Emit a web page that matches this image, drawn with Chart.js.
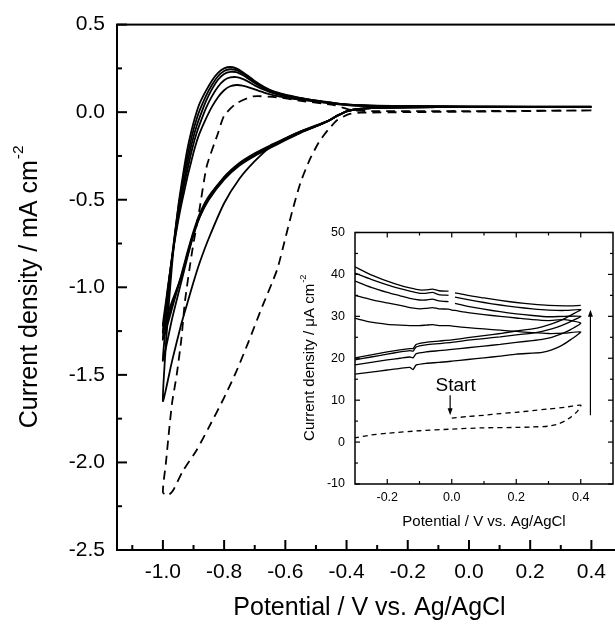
<!DOCTYPE html>
<html lang="en">
  <head>
    <meta charset="UTF-8" />
    <title>Cyclic voltammograms</title>
    <script src="https://cdn.jsdelivr.net/npm/chart.js@4"></script>
    <style>
      body { margin: 0; background: #fff; overflow: hidden; }
      #wrap { position: relative; width: 615px; height: 629px; overflow: hidden; }
      #mainChart { position: absolute; left: 0; top: 0; }
      #insetChart { position: absolute; left: 290px; top: 215px; }
    </style>
  </head>
  <body>
    <div id="wrap">
      <canvas id="mainChart" width="623" height="629"></canvas>
      <canvas id="insetChart" width="325" height="325"></canvas>
    </div>

    <script>
      const FONT = 'Arial, "Liberation Sans", sans-serif';

      // ---- main plot: potential (V) / current density (mA cm-2) ----
      // cathodic scans, 0.4 V -> -1.0 V
      const FWD_V = [0.4, 0.2, 0.0, -0.2, -0.3, -0.36, -0.4, -0.43, -0.46, -0.5, -0.55, -0.6, -0.65, -0.7, -0.75, -0.8, -0.85, -0.88, -0.9, -0.92, -0.94, -0.97, -1.0];
      const F1_J = [0.03, 0.03, 0.03, 0.028, 0.025, 0.018, 0.005, -0.02, -0.05, -0.075, -0.11, -0.15, -0.2, -0.28, -0.38, -0.52, -0.72, -0.86, -0.97, -1.09, -1.21, -1.42, -1.65];
      const F2_J = [0.03, 0.03, 0.03, 0.028, 0.025, 0.018, 0.005, -0.02, -0.05, -0.078, -0.11, -0.15, -0.19, -0.235, -0.29, -0.37, -0.49, -0.6, -0.7, -0.83, -0.97, -1.18, -1.42];
      const F3_J = [0.03, 0.03, 0.03, 0.028, 0.025, 0.018, 0.005, -0.02, -0.05, -0.08, -0.115, -0.155, -0.195, -0.24, -0.295, -0.375, -0.48, -0.58, -0.68, -0.8, -0.93, -1.12, -1.3];
      const F4_J = [0.03, 0.03, 0.03, 0.028, 0.025, 0.018, 0.005, -0.02, -0.05, -0.08, -0.115, -0.155, -0.2, -0.245, -0.3, -0.38, -0.49, -0.59, -0.69, -0.81, -0.94, -1.1, -1.26];
      const F5_J = [0.03, 0.03, 0.03, 0.028, 0.025, 0.018, 0.005, -0.02, -0.05, -0.082, -0.118, -0.16, -0.205, -0.25, -0.305, -0.385, -0.5, -0.6, -0.7, -0.82, -0.94, -1.08, -1.22];

      // anodic scans, -1.0 V -> 0.4 V
      const REV_V = [-1.0, -0.99, -0.98, -0.97, -0.96, -0.95, -0.94, -0.93, -0.92, -0.91, -0.9, -0.89, -0.88, -0.86, -0.84, -0.82, -0.8, -0.78, -0.76, -0.74, -0.72, -0.7, -0.67, -0.64, -0.6, -0.56, -0.52, -0.48, -0.44, -0.4, -0.35, -0.3, -0.2, 0.0, 0.2, 0.4];
      const R1_J = [-1.65, -1.32, -1.08, -0.87, -0.69, -0.54, -0.42, -0.31, -0.21, -0.13, -0.06, 0.0, 0.05, 0.12, 0.18, 0.225, 0.25, 0.258, 0.25, 0.23, 0.205, 0.178, 0.145, 0.12, 0.1, 0.085, 0.072, 0.062, 0.052, 0.045, 0.04, 0.037, 0.035, 0.033, 0.032, 0.032];
      const R2_J = [-1.42, -1.2, -1.0, -0.83, -0.68, -0.55, -0.44, -0.34, -0.25, -0.17, -0.1, -0.04, 0.01, 0.09, 0.155, 0.205, 0.235, 0.245, 0.24, 0.222, 0.198, 0.172, 0.14, 0.117, 0.097, 0.083, 0.071, 0.061, 0.051, 0.044, 0.039, 0.036, 0.034, 0.032, 0.031, 0.031];
      const R3_J = [-1.3, -1.12, -0.96, -0.82, -0.69, -0.57, -0.47, -0.38, -0.29, -0.21, -0.14, -0.08, -0.03, 0.06, 0.13, 0.185, 0.218, 0.23, 0.228, 0.212, 0.19, 0.166, 0.136, 0.114, 0.095, 0.082, 0.07, 0.06, 0.05, 0.043, 0.038, 0.035, 0.033, 0.031, 0.03, 0.03];
      const R4_J = [-1.26, -1.1, -0.96, -0.83, -0.71, -0.6, -0.5, -0.41, -0.33, -0.25, -0.18, -0.12, -0.07, 0.02, 0.09, 0.145, 0.182, 0.198, 0.2, 0.19, 0.173, 0.153, 0.128, 0.108, 0.09, 0.078, 0.067, 0.058, 0.049, 0.042, 0.037, 0.034, 0.032, 0.03, 0.03, 0.03];
      const R5_J = [-1.22, -1.08, -0.95, -0.83, -0.72, -0.62, -0.53, -0.45, -0.37, -0.3, -0.23, -0.17, -0.12, -0.04, 0.03, 0.085, 0.125, 0.148, 0.155, 0.152, 0.142, 0.13, 0.112, 0.097, 0.083, 0.073, 0.064, 0.056, 0.048, 0.041, 0.036, 0.033, 0.031, 0.03, 0.03, 0.03];

      // first (dashed) cycle
      const FIRST_V = [0.4, 0.2, 0.0, -0.2, -0.35, -0.39, -0.43, -0.46, -0.49, -0.52, -0.55, -0.575, -0.6, -0.627, -0.68, -0.72, -0.76, -0.8, -0.85, -0.89, -0.935, -0.967, -0.985, -1.0, -0.99, -0.98, -0.97, -0.955, -0.94, -0.928, -0.905, -0.88, -0.857, -0.82, -0.8, -0.76, -0.705, -0.627, -0.55, -0.44, -0.38, -0.3, 0.0, 0.4];
      const FIRST_J = [0.01, 0.006, 0.003, 0.0, -0.003, -0.01, -0.045, -0.1, -0.17, -0.27, -0.4, -0.55, -0.72, -0.9, -1.13, -1.31, -1.48, -1.63, -1.8, -1.93, -2.05, -2.16, -2.19, -2.17, -2.0, -1.82, -1.66, -1.5, -1.3, -1.08, -0.8, -0.55, -0.31, -0.12, -0.02, 0.05, 0.09, 0.085, 0.065, 0.04, 0.01, 0.006, 0.006, 0.01];

      const MAIN_X_MAJOR = [-1.0, -0.8, -0.6, -0.4, -0.2, 0.0, 0.2, 0.4];
      const MAIN_X_MINOR = [-1.1, -0.9, -0.7, -0.5, -0.3, -0.1, 0.1, 0.3];
      const MAIN_Y_MAJOR = [0.5, 0.0, -0.5, -1.0, -1.5, -2.0, -2.5];
      const MAIN_Y_MINOR = [0.25, -0.25, -0.75, -1.25, -1.75, -2.25];

      // ---- inset: potential (V) / current density (uA cm-2) ----
      const LO_V = [-0.3, -0.25, -0.2, -0.16, -0.13, -0.12, -0.11, -0.08, -0.04, 0.0, 0.05, 0.1, 0.15, 0.2, 0.25, 0.28, 0.31, 0.34, 0.37, 0.4];
      const LO_1 = [16.2, 16.7, 17.2, 17.6, 17.8, 17.3, 18.4, 18.8, 19.0, 19.3, 19.7, 20.1, 20.5, 21.0, 21.2, 21.4, 22.0, 23.0, 24.5, 26.3];
      const LO_2 = [18.4, 19.0, 19.6, 20.0, 20.3, 20.1, 21.1, 21.5, 21.8, 22.1, 22.5, 22.9, 23.3, 23.8, 24.2, 24.5, 25.0, 25.8, 26.9, 28.4];
      const LO_3 = [19.6, 20.3, 21.0, 21.5, 21.8, 21.7, 22.7, 23.2, 23.5, 23.8, 24.3, 24.7, 25.1, 25.6, 26.0, 26.4, 27.0, 27.8, 28.8, 30.0];
      const LO_4 = [20.1, 20.8, 21.5, 22.0, 22.3, 22.3, 23.3, 23.8, 24.1, 24.4, 24.9, 25.4, 25.9, 26.5, 27.0, 27.5, 28.2, 29.1, 30.3, 31.6];

      const UP_V = [0.4, 0.35, 0.3, 0.25, 0.2, 0.15, 0.1, 0.05, 0.01, 0.0, -0.01, -0.04, -0.06, -0.08, -0.1, -0.13, -0.16, -0.2, -0.25, -0.3];
      const UP_1 = [26.5, 26.0, 25.9, 26.1, 26.4, 26.7, 27.0, 27.3, 27.6, 27.7, 27.8, 27.8, 28.0, 27.9, 27.8, 27.8, 27.9, 28.1, 28.6, 29.5];
      const UP_2 = [29.8, 29.2, 29.0, 29.2, 29.6, 30.0, 30.4, 30.9, 31.4, 31.5, 31.7, 31.8, 32.1, 31.9, 31.8, 32.1, 32.6, 33.2, 34.0, 35.0];
      const UP_3 = [30.9, 30.0, 29.9, 30.2, 30.6, 31.1, 31.7, 32.4, 33.1, null, 33.5, 33.7, 34.1, 33.9, 33.9, 34.3, 34.9, 35.7, 36.9, 38.4];
      const UP_4 = [31.6, 31.4, 31.5, 31.8, 32.2, 32.7, 33.3, 34.0, 34.6, null, 35.0, 35.2, 35.7, 35.5, 35.5, 36.0, 36.6, 37.5, 38.8, 40.3];
      const UP_5 = [32.6, 32.5, 32.6, 32.9, 33.3, 33.8, 34.4, 35.0, 35.6, null, 36.0, 36.1, 36.5, 36.3, 36.3, 36.8, 37.4, 38.4, 39.9, 41.8];

      const INSET_FIRST_V = [0.0, 0.05, 0.1, 0.15, 0.2, 0.25, 0.3, 0.35, 0.4, 0.39, 0.37, 0.35, 0.33, 0.3, 0.25, 0.2, 0.1, 0.0, -0.1, -0.2, -0.25, -0.3];
      const INSET_FIRST_J = [5.7, 6.1, 6.4, 6.8, 7.1, 7.5, 7.9, 8.3, 8.8, 7.4, 6.0, 5.0, 4.3, 3.8, 3.6, 3.5, 3.4, 3.1, 2.7, 2.1, 1.7, 1.0];

      const INSET_X_MAJOR = [-0.2, 0.0, 0.2, 0.4];
      const INSET_X_MINOR = [-0.1, 0.1, 0.3];
      const INSET_Y_MAJOR = [-10, 0, 10, 20, 30, 40, 50];
      const INSET_Y_MINOR = [-5, 5, 15, 25, 35, 45];

      // annotations in the inset (data units)
      const START_LABEL = { text: "Start", v: 0.012, j: 13.5 };
      const ARROWS = [
        { v: -0.005, from: 11.2, to: 6.4 },
        { v: 0.43, from: 6.4, to: 31.6 },
      ];

      function pts(vs, js) {
        return vs.map((v, i) => ({ x: v, y: js[i] }));
      }
      function loop(fv, fj, rv, rj) {
        return pts(fv, fj).concat(pts(rv, rj).slice(1));
      }
      function curve(data, width, dash) {
        return {
          data: data,
          showLine: true,
          borderColor: "#000",
          borderWidth: width,
          borderDash: dash || [],
          pointRadius: 0,
          tension: 0.2,
          fill: false,
        };
      }

      // frame + inward tick marks, drawn on the library's scales
      const frameTicks = {
        id: "frameTicks",
        afterDatasetsDraw(chart, args, o) {
          const { ctx, chartArea: a } = chart;
          const x = chart.scales.x;
          const y = chart.scales.y;
          ctx.save();
          ctx.strokeStyle = "#000";
          ctx.lineWidth = o.lineWidth;
          ctx.strokeRect(a.left, a.top, a.right - a.left, a.bottom - a.top);
          ctx.lineWidth = o.tickWidth;
          const mark = (px, py, dx, dy) => {
            ctx.beginPath();
            ctx.moveTo(px, py);
            ctx.lineTo(px + dx, py + dy);
            ctx.stroke();
          };
          [[o.xMajor, o.major], [o.xMinor, o.minor]].forEach(([vals, len]) => {
            vals.forEach((v) => {
              const px = x.getPixelForValue(v);
              mark(px, a.bottom, 0, -len);
              if (o.mirror) mark(px, a.top, 0, len);
            });
          });
          [[o.yMajor, o.major], [o.yMinor, o.minor]].forEach(([vals, len]) => {
            vals.forEach((v) => {
              const py = y.getPixelForValue(v);
              mark(a.left, py, len, 0);
              if (o.mirror) mark(a.right, py, -len, 0);
            });
          });
          ctx.restore();
        },
      };

      // rotated y title with a superscript
      const yTitle = {
        id: "yTitle",
        afterDraw(chart, args, o) {
          const { ctx, chartArea: a } = chart;
          const supSize = o.size * 0.62;
          ctx.save();
          ctx.translate(o.x, (a.top + a.bottom) / 2 + o.shift);
          ctx.rotate(-Math.PI / 2);
          ctx.fillStyle = "#000";
          ctx.textBaseline = "middle";
          ctx.textAlign = "left";
          ctx.font = o.size + "px " + FONT;
          const w1 = ctx.measureText(o.main).width;
          ctx.font = supSize + "px " + FONT;
          const w2 = ctx.measureText(o.sup).width;
          const x0 = -(w1 + w2) / 2;
          ctx.font = o.size + "px " + FONT;
          ctx.fillText(o.main, x0, 0);
          ctx.font = supSize + "px " + FONT;
          ctx.fillText(o.sup, x0 + w1 + 1, -o.size * 0.45);
          ctx.restore();
        },
      };

      // inset annotations: "Start" label and arrows
      const insetNotes = {
        id: "insetNotes",
        afterDatasetsDraw(chart) {
          const { ctx } = chart;
          const x = chart.scales.x;
          const y = chart.scales.y;
          ctx.save();
          ctx.fillStyle = "#000";
          ctx.strokeStyle = "#000";
          ctx.font = "19px " + FONT;
          ctx.textAlign = "center";
          ctx.textBaseline = "middle";
          ctx.fillText(START_LABEL.text, x.getPixelForValue(START_LABEL.v), y.getPixelForValue(START_LABEL.j));
          ctx.lineWidth = 1.2;
          ARROWS.forEach((ar) => {
            const px = x.getPixelForValue(ar.v);
            const p0 = y.getPixelForValue(ar.from);
            const p1 = y.getPixelForValue(ar.to);
            const dir = p1 > p0 ? 1 : -1;
            ctx.beginPath();
            ctx.moveTo(px, p0);
            ctx.lineTo(px, p1 - dir * 5);
            ctx.stroke();
            ctx.beginPath();
            ctx.moveTo(px, p1);
            ctx.lineTo(px - 2.5, p1 - dir * 7);
            ctx.lineTo(px + 2.5, p1 - dir * 7);
            ctx.closePath();
            ctx.fill();
          });
          ctx.restore();
        },
      };

      const label1 = (v) => Number(v).toFixed(1);
      const label0 = (v) => String(Math.round(v));

      new Chart(document.getElementById("mainChart"), {
        type: "scatter",
        data: {
          datasets: [
            curve(pts(FIRST_V, FIRST_J), 1.8, [9, 6]),
            curve(loop(FWD_V, F1_J, REV_V, R1_J), 1.8),
            curve(loop(FWD_V, F2_J, REV_V, R2_J), 1.8),
            curve(loop(FWD_V, F3_J, REV_V, R3_J), 1.8),
            curve(loop(FWD_V, F4_J, REV_V, R4_J), 1.8),
            curve(loop(FWD_V, F5_J, REV_V, R5_J), 1.8),
          ],
        },
        options: {
          responsive: false,
          animation: false,
          devicePixelRatio: 1,
          layout: { padding: { top: 21, right: 1, left: 0, bottom: 0 } },
          plugins: {
            legend: { display: false },
            tooltip: { enabled: false },
            frameTicks: {
              lineWidth: 2,
              tickWidth: 2,
              major: 10,
              minor: 5,
              mirror: false,
              xMajor: MAIN_X_MAJOR,
              xMinor: MAIN_X_MINOR,
              yMajor: MAIN_Y_MAJOR,
              yMinor: MAIN_Y_MINOR,
            },
            yTitle: { x: 30, size: 25, shift: 0, main: "Current density / mA cm", sup: "-2" },
          },
          scales: {
            x: {
              type: "linear",
              min: -1.15,
              max: 0.5,
              grid: { display: false, drawTicks: false },
              border: { display: false },
              afterBuildTicks: (s) => { s.ticks = MAIN_X_MAJOR.map((v) => ({ value: v })); },
              afterFit: (s) => { s.height = 79; },
              ticks: { color: "#000", font: { size: 21, family: FONT }, padding: 10, maxRotation: 0, callback: label1 },
              title: {
                display: true,
                text: "Potential / V vs. Ag/AgCl",
                color: "#000",
                font: { size: 25, family: FONT },
                padding: { top: 0, bottom: 6 },
              },
            },
            y: {
              type: "linear",
              min: -2.5,
              max: 0.5,
              grid: { display: false, drawTicks: false },
              border: { display: false },
              afterBuildTicks: (s) => { s.ticks = MAIN_Y_MAJOR.map((v) => ({ value: v })); },
              afterFit: (s) => { s.width = 117; },
              ticks: { color: "#000", font: { size: 21, family: FONT }, padding: 12, callback: label1 },
            },
          },
        },
        plugins: [frameTicks, yTitle],
      });

      new Chart(document.getElementById("insetChart"), {
        type: "scatter",
        data: {
          datasets: [
            curve(pts(INSET_FIRST_V, INSET_FIRST_J), 1.3, [5, 4]),
            curve(loop(LO_V, LO_1, UP_V, UP_1), 1.3),
            curve(loop(LO_V, LO_2, UP_V, UP_2), 1.3),
            curve(loop(LO_V, LO_3, UP_V, UP_3), 1.3),
            curve(loop(LO_V, LO_4, UP_V, UP_4), 1.3),
            curve(pts(UP_V, UP_5), 1.3),
          ],
        },
        options: {
          responsive: false,
          animation: false,
          devicePixelRatio: 1,
          layout: { padding: { top: 7, right: 2, left: 0, bottom: 0 } },
          plugins: {
            legend: { display: false },
            tooltip: { enabled: false },
            frameTicks: {
              lineWidth: 1.5,
              tickWidth: 1.2,
              major: 5,
              minor: 3,
              mirror: true,
              xMajor: INSET_X_MAJOR,
              xMinor: INSET_X_MINOR,
              yMajor: INSET_Y_MAJOR,
              yMinor: INSET_Y_MINOR,
            },
            yTitle: { x: 20, size: 15, shift: 0, main: "Current density / \u03bcA cm", sup: "-2" },
          },
          scales: {
            x: {
              type: "linear",
              min: -0.3,
              max: 0.5,
              grid: { display: false, drawTicks: false },
              border: { display: false },
              afterBuildTicks: (s) => { s.ticks = INSET_X_MAJOR.map((v) => ({ value: v })); },
              afterFit: (s) => { s.height = 56; },
              ticks: { color: "#000", font: { size: 12.5, family: FONT }, padding: 6, maxRotation: 0, callback: label1 },
              title: {
                display: true,
                text: "Potential / V vs. Ag/AgCl",
                color: "#000",
                font: { size: 15, family: FONT },
                padding: { top: 0, bottom: 9 },
              },
            },
            y: {
              type: "linear",
              min: -10,
              max: 50,
              grid: { display: false, drawTicks: false },
              border: { display: false },
              afterBuildTicks: (s) => { s.ticks = INSET_Y_MAJOR.map((v) => ({ value: v })); },
              afterFit: (s) => { s.width = 65; },
              ticks: { color: "#000", font: { size: 12.5, family: FONT }, padding: 10, callback: label0 },
            },
          },
        },
        plugins: [frameTicks, yTitle, insetNotes],
      });
    </script>
  </body>
</html>
